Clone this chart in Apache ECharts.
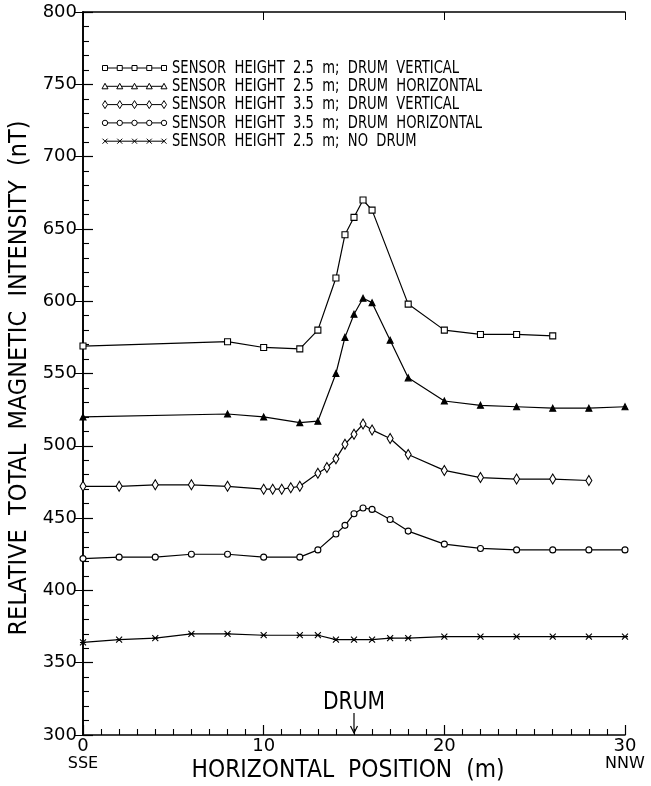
<!DOCTYPE html>
<html><head><meta charset="utf-8">
<script src="https://cdn.jsdelivr.net/npm/echarts@6/dist/echarts.min.js"></script>
<style>html,body{margin:0;padding:0;background:#fff}#c{width:651px;height:786px}</style>
</head><body><div id="c"></div>
<script>
// ---- data ----
const xSquares = [0,8,10,12,13,14,14.5,15,15.5,16,18,20,22,24,26];
const ySquares = [569,572,568,567,580,616,646,658,670,663,598,580,577,577,576];
const xTriangles = [0,8,10,12,13,14,14.5,15,15.5,16,17,18,20,22,24,26,28,30];
const yTriangles = [520,522,520,516,517,550,575,591,602,599,573,547,531,528,527,526,526,527];
const xDiamonds = [0,2,4,6,8,10,10.5,11,11.5,12,13,13.5,14,14.5,15,15.5,16,17,18,20,22,24,26,28];
const yDiamonds = [472,472,473,473,472,470,470,470,471,472,481,485,491,501,508,515,511,505,494,483,478,477,477,476];
const xCircles = [0,2,4,6,8,10,12,13,14,14.5,15,15.5,16,17,18,20,22,24,26,28,30];
const yCircles = [422,423,423,425,425,423,423,428,439,445,453,457,456,449,441,432,429,428,428,428,428];
const xCrosses = [0,2,4,6,8,10,12,13,14,15,16,17,18,20,22,24,26,28,30];
const yCrosses = [364,366,367,370,370,369,369,369,366,366,366,367,367,368,368,368,368,368,368];
const seriesNames = [
  'SENSOR  HEIGHT  2.5  m;  DRUM  VERTICAL',
  'SENSOR  HEIGHT  2.5  m;  DRUM  HORIZONTAL',
  'SENSOR  HEIGHT  3.5  m;  DRUM  VERTICAL',
  'SENSOR  HEIGHT  3.5  m;  DRUM  HORIZONTAL',
  'SENSOR  HEIGHT  2.5  m;  NO  DRUM'
];
const xTitle = 'HORIZONTAL  POSITION  (m)';
const yTitle = 'RELATIVE  TOTAL  MAGNETIC  INTENSITY  (nT)';
const drumLabel = 'DRUM';
const drumPosition = 15;
const xTickLabels = {0:'SSE', 30:'NNW'};

const FONT = '"DejaVu Sans", sans-serif';
const crossPath = 'path://M0,0L10,10M10,0L0,10M0,5L10,5';

const mctx = document.createElement('canvas').getContext('2d');
function textW(t, px){ mctx.font = px + 'px ' + FONT; return mctx.measureText(t).width; }

function pairs(xs, ys){ return xs.map((x,i)=>[x, ys[i]]); }
const symDefs = [
  {symbol:'rect', size:6, fill:'#fff'},
  {symbol:'triangle', size:6, fill:'#000'},
  {symbol:'diamond', size:[6,10], fill:'#fff'},
  {symbol:'circle', size:6, fill:'#fff'},
  {symbol:crossPath, size:6, fill:'none'}
];
const dataSets = [pairs(xSquares,ySquares), pairs(xTriangles,yTriangles), pairs(xDiamonds,yDiamonds), pairs(xCircles,yCircles), pairs(xCrosses,yCrosses)];

const chart = echarts.init(document.getElementById('c'), null, {renderer:'canvas'});
const series = dataSets.map((d,i)=>({
  type:'line', name:seriesNames[i], data:d, xAxisIndex:0, yAxisIndex:0,
  symbol:symDefs[i].symbol, symbolSize:symDefs[i].size, showAllSymbol:true,
  lineStyle:{color:'#000', width:1.2},
  itemStyle:{color:symDefs[i].fill, borderColor:'#000', borderWidth:1.1},
  emphasis:{disabled:true}, animation:false, z:3
}));

chart.setOption({
  animation:false,
  backgroundColor:'#fff',
  grid:{left:83, right:26, top:12, bottom:51, containLabel:false, outerBoundsMode:'none'},
  xAxis:[{
    type:'value', min:0, max:30, interval:10, position:'bottom',
    axisLine:{lineStyle:{color:'#000', width:1.6}},
    axisTick:{inside:true, length:10, lineStyle:{color:'#000', width:1.2}},
    minorTick:{show:true, splitNumber:10, length:6, lineStyle:{color:'#000', width:1.1}},
    splitLine:{show:false},
    axisLabel:{color:'#000', fontFamily:FONT, fontSize:18, margin:3, lineHeight:17,
      formatter:function(v){ return xTickLabels[v] !== undefined ? v + '\n{s|' + xTickLabels[v] + '}' : String(v); },
      rich:{s:{fontFamily:FONT, fontSize:16, color:'#000', lineHeight:17}}}
  },{
    type:'value', min:0, max:30, interval:10, position:'top',
    axisLine:{lineStyle:{color:'#000', width:1.6}},
    axisTick:{inside:true, length:8, lineStyle:{color:'#000'}},
    axisLabel:{show:false}, splitLine:{show:false}
  }],
  yAxis:[{
    type:'value', min:300, max:800, interval:50, position:'left',
    axisLine:{show:true, lineStyle:{color:'#000', width:1.6}},
    axisTick:{show:true, inside:true, length:10, lineStyle:{color:'#000', width:1.2}},
    minorTick:{show:true, splitNumber:5, length:6, lineStyle:{color:'#000', width:1.1}},
    splitLine:{show:false},
    axisLabel:{color:'#000', fontFamily:FONT, fontSize:18, margin:6}
  },{
    type:'value', min:300, max:800, interval:50, position:'right',
    axisLine:{show:true, lineStyle:{color:'#000', width:1.6}},
    axisTick:{show:true, inside:true, length:8, lineStyle:{color:'#000'}},
    axisLabel:{show:false}, splitLine:{show:false}
  }],
  series: series
});

// ---- legend (drawn as graphic), titles and DRUM annotation ----
const g = [];
const legX0 = 105, legX1 = 164, legY0 = 68, legDy = 18.3, textX = 172;
const legFont = 18;
const legScale = 310 / textW(seriesNames[1], legFont);
seriesNames.forEach((name,i)=>{
  const y = legY0 + i*legDy;
  g.push({type:'line', shape:{x1:legX0, y1:y, x2:legX1, y2:y}, style:{stroke:'#000', lineWidth:1}});
  for (let k=0;k<5;k++){
    const x = legX0 + k*(legX1-legX0)/4;
    let el;
    if (i===0) el = {type:'rect', shape:{x:x-2.5,y:y-2.5,width:5,height:5}, style:{fill:'#fff',stroke:'#000',lineWidth:1}};
    else if (i===1) el = {type:'polygon', shape:{points:[[x,y-3],[x+3,y+2.5],[x-3,y+2.5]]}, style:{fill:'#fff',stroke:'#000',lineWidth:1}};
    else if (i===2) el = {type:'polygon', shape:{points:[[x,y-4],[x+2.5,y],[x,y+4],[x-2.5,y]]}, style:{fill:'#fff',stroke:'#000',lineWidth:1}};
    else if (i===3) el = {type:'circle', shape:{cx:x,cy:y,r:2.7}, style:{fill:'#fff',stroke:'#000',lineWidth:1}};
    else el = {type:'polyline', shape:{points:[[x-2.5,y-2.5],[x+2.5,y+2.5]]}, style:{stroke:'#000',lineWidth:1}};
    g.push(el);
    if (i===4) g.push({type:'polyline', shape:{points:[[x+2.5,y-2.5],[x-2.5,y+2.5]]}, style:{stroke:'#000',lineWidth:1}});
  }
  g.push({type:'text', x:textX, y:y, scaleX:legScale,
    style:{text:name, fill:'#000', font:legFont + 'px ' + FONT, textVerticalAlign:'middle', textAlign:'left'}});
});

// axis titles, scaled to the reference widths
const tFont = 24;
const xs = 313 / textW(xTitle, tFont);
g.push({type:'text', x:348, y:771, scaleX:xs,
  style:{text:xTitle, fill:'#000', font:tFont + 'px ' + FONT, textAlign:'center', textVerticalAlign:'middle'}});
const ys = 515 / textW(yTitle, tFont);
g.push({type:'text', x:20, y:378, rotation:Math.PI/2, scaleX:ys,
  style:{text:yTitle, fill:'#000', font:tFont + 'px ' + FONT, textAlign:'center', textVerticalAlign:'middle'}});

const base = chart.convertToPixel({xAxisIndex:0, yAxisIndex:0}, [drumPosition, 300]);
const ds = 62 / textW(drumLabel, 24);
g.push({type:'text', x:base[0], y:base[1]-32, scaleX:ds,
  style:{text:drumLabel, fill:'#000', font:'24px ' + FONT, textAlign:'center', textVerticalAlign:'middle'}});
g.push({type:'line', shape:{x1:base[0], y1:base[1]-22, x2:base[0], y2:base[1]-2}, style:{stroke:'#000', lineWidth:1.2}});
g.push({type:'polyline', shape:{points:[[base[0]-3.5,base[1]-9],[base[0],base[1]-2],[base[0]+3.5,base[1]-9]]}, style:{stroke:'#000', lineWidth:1.2, fill:null}});
chart.setOption({graphic:g});
</script>
</body></html>
